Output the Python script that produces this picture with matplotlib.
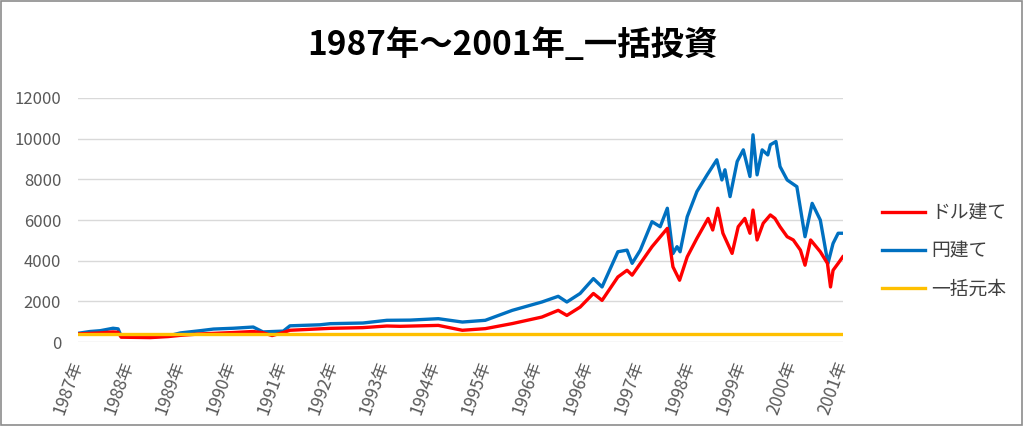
import numpy as np
import matplotlib.pyplot as plt
from matplotlib.patches import Rectangle

plt.rcParams['font.family'] = ['Noto Sans CJK JP', 'DejaVu Sans']

# x positions are in units of category-label spacing (0 = first label, 15 = last)
tick_labels = ['1987年', '1988年', '1989年', '1990年', '1991年', '1992年', '1993年',
               '1994年', '1995年', '1996年', '1996年', '1997年', '1998年', '1999年',
               '2000年', '2001年']

yen_x = [0.0, 0.24, 0.44, 0.69, 0.79, 0.85, 1.12, 1.42, 1.77, 2.01, 2.40, 2.66, 3.05,
         3.44, 3.63, 4.03, 4.16, 4.75, 4.95, 5.59, 6.06, 6.52, 7.07, 7.54, 7.99, 8.52,
         9.10, 9.42, 9.59, 9.85, 10.11, 10.28, 10.59, 10.77, 10.87, 11.03, 11.26, 11.42,
         11.56, 11.67, 11.75, 11.81, 11.95, 12.14, 12.34, 12.53, 12.63, 12.69, 12.79,
         12.93, 13.05, 13.18, 13.24, 13.32, 13.42, 13.53, 13.58, 13.69, 13.77, 13.91,
         14.10, 14.26, 14.40, 14.56, 14.71, 14.81, 14.91, 15.0]
yen_val = [430, 520, 560, 680, 650, 290, 270, 260, 300, 450, 560, 640, 680,
           740, 500, 540, 800, 850, 905, 937, 1070, 1080, 1150, 985, 1070, 1560,
           1970, 2250, 1970, 2390, 3120, 2710, 4440, 4520, 3870, 4520, 5920, 5670,
           6580, 4350, 4690, 4440, 6160, 7400, 8220, 8960, 7970, 8470, 7150,
           8880, 9450, 8140, 10190, 8220, 9450, 9200, 9700, 9860, 8630, 7970,
           7640, 5180, 6820, 6000, 3870, 4850, 5350, 5350]

usd_x = [0.0, 0.44, 0.69, 0.79, 0.85, 1.42, 1.77, 2.01, 2.40, 3.05, 3.44, 3.63, 3.81,
         4.03, 4.16, 4.95, 5.59, 6.06, 6.32, 7.07, 7.54, 7.99, 8.52, 9.10, 9.42, 9.59,
         9.85, 10.11, 10.28, 10.59, 10.77, 10.87, 11.26, 11.56, 11.67, 11.80, 11.95,
         12.14, 12.36, 12.45, 12.55, 12.65, 12.83, 12.95, 13.08, 13.18, 13.24, 13.32,
         13.44, 13.58, 13.67, 13.77, 13.91, 14.03, 14.17, 14.26, 14.37, 14.56, 14.70,
         14.76, 14.81, 14.91, 15.0]
usd_val = [400, 450, 500, 480, 240, 220, 270, 330, 400, 470, 520, 460, 320,
           470, 580, 675, 710, 790, 775, 820, 580, 660, 910, 1230, 1560, 1310,
           1720, 2390, 2050, 3200, 3530, 3290, 4690, 5590, 3700, 3040, 4190,
           5100, 6080, 5510, 6580, 5350, 4360, 5670, 6080, 5350, 6490, 5020,
           5840, 6250, 6080, 5670, 5180, 5020, 4520, 3780, 5020, 4440, 3870,
           2710, 3530, 3870, 4190]

principal_x = [0.0, 15.0]
principal_val = [410, 410]

fig = plt.figure(figsize=(10.24, 4.26), dpi=100)
ax = fig.add_axes([0.076, 0.197, 0.747, 0.573])

ax.plot(usd_x, usd_val, color='#ff0000', lw=2.4, label='ドル建て', zorder=3)
ax.plot(yen_x, yen_val, color='#0070c0', lw=2.4, label='円建て', zorder=2)
ax.plot(principal_x, principal_val, color='#ffc000', lw=2.4, label='一括元本', zorder=4)

ax.set_xlim(0, 15)
ax.set_ylim(0, 12000)
ax.set_yticks(np.arange(0, 12001, 2000))
ax.set_xticks(np.arange(len(tick_labels)))
ax.set_xticklabels(tick_labels, rotation=70, ha='right', va='center',
                   rotation_mode='anchor', fontsize=12.5, color='#595959')
ax.tick_params(axis='y', labelsize=12, labelcolor='#595959', length=0, pad=12)
ax.tick_params(axis='x', length=0, pad=14)
ax.grid(axis='y', color='#d9d9d9', lw=1)
ax.set_axisbelow(True)
for s in ax.spines.values():
    s.set_visible(False)

fig.text(0.5, 0.893, '1987年～2001年_一括投資', ha='center', va='center',
         fontsize=24, fontweight='bold', color='#000000')

leg = fig.legend(loc='center left', bbox_to_anchor=(0.845, 0.41), frameon=False,
                 fontsize=13.5, handlelength=2.3, labelspacing=0.9, handletextpad=0.3)
for t in leg.get_texts():
    t.set_color('#404040')

fig.patches.append(Rectangle((0.001, 0.002), 0.997, 0.995, transform=fig.transFigure,
                             fill=False, edgecolor='#8c8c8c', lw=1.2))

fig.savefig('out.png', dpi=100)
